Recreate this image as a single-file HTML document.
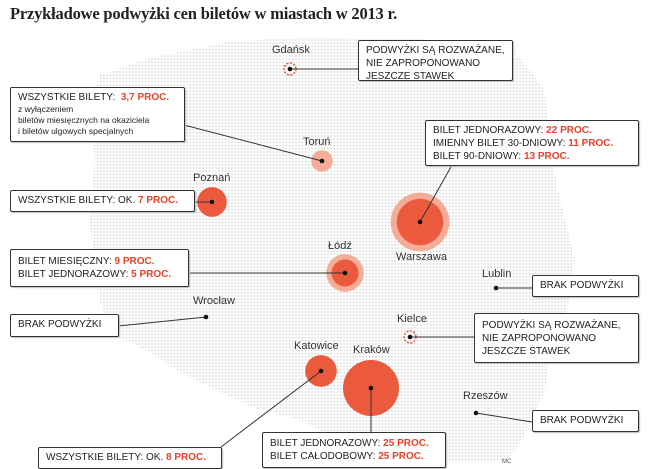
<!DOCTYPE html>
<html><head><meta charset="utf-8"><style>
body{margin:0;width:665px;height:469px;overflow:hidden;background:#fff;font-family:"Liberation Sans",sans-serif;position:relative}
.t{position:absolute;left:10px;top:4px;font-family:"Liberation Serif",serif;font-weight:bold;font-size:16.5px;color:#222;letter-spacing:-0.2px}
.box{position:absolute;border:1px solid #333;border-radius:2px;background:#fff;font-size:10px;line-height:13px;color:#222;padding:3px 7px;box-sizing:border-box;box-shadow:1px 1px 1px #bbb;white-space:nowrap}
.r{color:#e2432a;font-weight:bold}
.s{font-size:8.5px;line-height:11px}
.lbl{position:absolute;font-size:11px;color:#333}
</style></head><body>
<div class="t">Przykładowe podwyżki cen biletów w miastach w 2013 r.</div>
<svg id="map" width="665" height="469" style="position:absolute;left:0;top:0">
<defs><pattern id="dots" width="3.2" height="3.2" patternUnits="userSpaceOnUse"><circle cx="1.6" cy="1.6" r="0.8" fill="#cfcfcf"/></pattern></defs>
<polygon fill="url(#dots)" points="100,75 150,58 230,42 300,37 420,38 470,52 520,58 545,90 550,150 560,200 575,260 570,300 552,340 545,390 522,440 505,462 440,462 390,456 340,440 300,420 260,410 220,392 180,372 150,352 108,332 95,280 90,220 95,160 90,110"/>
<g id="marks"></g>
</svg>
<div class="box" style="left:358px;top:40px;width:155px;height:41px">PODWYŻKI SĄ ROZWAŻANE,<br>NIE ZAPROPONOWANO<br>JESZCZE STAWEK</div>
<div class="box" style="left:10px;top:87px;width:175px;height:55px">WSZYSTKIE BILETY: &nbsp;<span class="r">3,7 PROC.</span><div class="s">z wyłączeniem<br>biletów miesięcznych na okaziciela<br>i biletów ulgowych specjalnych</div></div>
<div class="box" style="left:10px;top:190px;width:185px;height:22px">WSZYSTKIE BILETY: OK. <span class="r">7 PROC.</span></div>
<div class="box" style="left:425px;top:120px;width:214px;height:46px">BILET JEDNORAZOWY: <span class="r">22 PROC.</span><br>IMIENNY BILET 30-DNIOWY: <span class="r">11 PROC.</span><br>BILET 90-DNIOWY: <span class="r">13 PROC.</span></div>
<div class="box" style="left:10px;top:249px;width:179px;height:38px;padding-top:5px">BILET MIESIĘCZNY: <span class="r">9 PROC.</span><br>BILET JEDNORAZOWY: <span class="r">5 PROC.</span></div>
<div class="box" style="left:532px;top:275px;width:107px;height:22px">BRAK PODWYŻKI</div>
<div class="box" style="left:10px;top:314px;width:109px;height:23px">BRAK PODWYŻKI</div>
<div class="box" style="left:474px;top:313px;width:165px;height:50px;padding-top:5px">PODWYŻKI SĄ ROZWAŻANE,<br>NIE ZAPROPONOWANO<br>JESZCZE STAWEK</div>
<div class="box" style="left:532px;top:410px;width:107px;height:22px">BRAK PODWYŻKI</div>
<div class="box" style="left:38px;top:447px;width:184px;height:22px">WSZYSTKIE BILETY: OK. <span class="r">8 PROC.</span></div>
<div class="box" style="left:262px;top:432px;width:184px;height:36px;padding-top:4px">BILET JEDNORAZOWY: <span class="r">25 PROC.</span><br>BILET CAŁODOBOWY: <span class="r">25 PROC.</span></div>
<div class="lbl" style="left:272px;top:44px">Gdańsk</div>
<div class="lbl" style="left:303px;top:136px">Toruń</div>
<div class="lbl" style="left:193px;top:172px">Poznań</div>
<div class="lbl" style="left:396px;top:251px">Warszawa</div>
<div class="lbl" style="left:328px;top:240px">Łódź</div>
<div class="lbl" style="left:482px;top:268px">Lublin</div>
<div class="lbl" style="left:193px;top:295px">Wrocław</div>
<div class="lbl" style="left:397px;top:313px">Kielce</div>
<div class="lbl" style="left:294px;top:340px">Katowice</div>
<div class="lbl" style="left:353px;top:344px">Kraków</div>
<div class="lbl" style="left:463px;top:390px">Rzeszów</div>
<div style="position:absolute;left:502px;top:459px;font-size:6px;color:#555">MC</div>
<script>
// city data: outer (max) increase %, inner increase %, 0 = none, -1 = under consideration
var cities=["Gdansk","Torun","Poznan","Warszawa","Lodz","Lublin","Wroclaw","Kielce","Katowice","Krakow","Rzeszow"];
var outerVal=[-1,3.7,7,22,9,0,0,-1,8,25,0];
var innerVal=[0,0,0,13,5,0,0,0,0,0,0];
var cityX=[290,322,212,420,345,496,206,410,321,371,476];
var cityY=[69,161,202,222,273,288,317,337,371,388,413];
// leader line endpoints (box edge anchors)
var anchorX=[358,184,194,452,188,532,118,474,221,371,532];
var anchorY=[69,125,202,165,273,288,326,337,447,432,422];
function rad(v){return Math.sqrt(v)*5.6;}
var ns="http://www.w3.org/2000/svg",g=document.getElementById('marks');
function mk(t,a){var e=document.createElementNS(ns,t);for(var k in a)e.setAttribute(k,a[k]);g.appendChild(e);return e;}
for(var i=0;i<cities.length;i++){
  var n=cities[i].toLowerCase();
  var x=cityX[i],y=cityY[i];
  if(outerVal[i]>0){
    var inner=innerVal[i]>0;
    var lightOnly=outerVal[i]<5;
    var c=mk('circle',{cx:x,cy:y,r:rad(outerVal[i])*(inner?1.12:1),fill:(inner||lightOnly)?'#f4ad97':'#ec5a3d'});
    
    
    if(inner){
      var c2=mk('circle',{cx:x,cy:y,r:rad(innerVal[i])+(innerVal[i]>10?3:1),fill:'#ec5a3d'});
      
      
    }
  } else if(outerVal[i]<0){
    var d=mk('circle',{cx:x,cy:y,r:6,fill:'none',stroke:'#e2432a','stroke-width':1.3,'stroke-dasharray':'2,1.5'});
    
    
  }
  var l=mk('line',{x1:x,y1:y,x2:anchorX[i],y2:anchorY[i],stroke:'#333','stroke-width':1});
  
  
  var p=mk('circle',{cx:x,cy:y,r:2.3,fill:'#111'});
  
  
}
</script>
</body></html>
